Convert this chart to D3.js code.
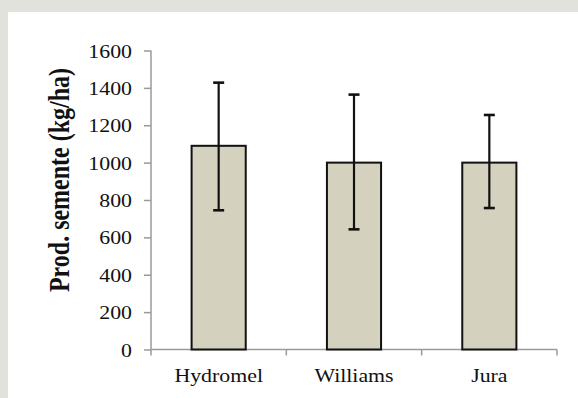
<!DOCTYPE html>
<html>
<head>
<meta charset="utf-8">
<title>Prod. semente</title>
<script src="https://d3js.org/d3.v7.min.js"></script>
<style>
  body { margin: 0; background: #e2e2dc; }
  svg { display: block; }
  text { font-family: "Liberation Serif", "Times New Roman", serif; fill: #111; }
  .axis path, .axis line { stroke: #9a9a9a; stroke-width: 1.5px; }
</style>
</head>
<body>
<script>
// data
var cultivars = ["Hydromel", "Williams", "Jura"];
var yieldMean = [1090, 1000, 1000];
var errLow    = [745, 643, 757];
var errHigh   = [1428, 1364, 1255];
var yTicks    = [0, 200, 400, 600, 800, 1000, 1200, 1400, 1600];

var W = 578, H = 398;
var mLeft = 151, mRight = 557, mTop = 50.5, mBottom = 349.5;

var svg = d3.select("body").append("svg")
  .attr("width", W).attr("height", H);

// white panel on grey page
svg.append("rect")
  .attr("x", 8).attr("y", 12)
  .attr("width", W - 8).attr("height", H - 12)
  .attr("fill", "#fff");

var x = d3.scaleBand().domain(cultivars).range([mLeft, mRight]).padding(0);
var y = d3.scaleLinear().domain([0, 1600]).range([mBottom, mTop]);

var rows = cultivars.map(function(c, i) {
  return { name: c, v: yieldMean[i], lo: errLow[i], hi: errHigh[i] };
});

// y axis
var gy = svg.append("g").attr("class", "axis")
  .attr("transform", "translate(" + mLeft + ",0)")
  .call(d3.axisLeft(y).tickValues(yTicks).tickSize(7).tickPadding(7).tickFormat(d3.format("d")));
gy.select(".domain").attr("d", "M0," + y(0) + "V" + y(1600));
// labels drawn stretched horizontally like the original
gy.selectAll(".tick text")
  .style("font-size", "19px")
  .attr("x", null).attr("dy", null)
  .attr("transform", "translate(-19,6.5) scale(1.15,1)");

// x axis: line with ticks on category boundaries, labels under centres
var gx = svg.append("g").attr("class", "axis")
  .attr("transform", "translate(0," + mBottom + ")");
gx.append("path").attr("fill", "none")
  .attr("d", "M" + mLeft + ",0H" + mRight);
var bounds = cultivars.map(function(c) { return x(c); }).concat([x.range()[1]]);
gx.selectAll("line.b").data(bounds).enter().append("line")
  .attr("class", "b")
  .attr("x1", function(d) { return d; }).attr("x2", function(d) { return d; })
  .attr("y1", 0).attr("y2", 6);

var gxl = svg.append("g")
  .attr("transform", "translate(0," + mBottom + ")")
  .call(d3.axisBottom(x).tickSize(0));
gxl.select(".domain").remove();
gxl.selectAll(".tick text")
  .style("font-size", "19px")
  .attr("y", null).attr("dy", null)
  .attr("transform", "translate(0,32) scale(1.15,1)");

// bars
var bw = x.bandwidth() * 0.4;
svg.append("g").selectAll("rect").data(rows).enter().append("rect")
  .attr("x", function(d) { return x(d.name) + x.bandwidth() / 2 - bw / 2; })
  .attr("y", function(d) { return y(d.v); })
  .attr("width", bw)
  .attr("height", function(d) { return y(0) - y(d.v); })
  .attr("fill", "#d4d2be")
  .attr("stroke", "#111")
  .attr("stroke-width", 2);

// error bars
var eb = svg.append("g").attr("stroke", "#111").attr("stroke-width", 2.2)
  .selectAll("g").data(rows).enter().append("g");
eb.append("line")
  .attr("x1", function(d) { return x(d.name) + x.bandwidth() / 2; })
  .attr("x2", function(d) { return x(d.name) + x.bandwidth() / 2; })
  .attr("y1", function(d) { return y(d.lo); })
  .attr("y2", function(d) { return y(d.hi); });
["lo", "hi"].forEach(function(k) {
  eb.append("line")
    .attr("x1", function(d) { return x(d.name) + x.bandwidth() / 2 - 5.5; })
    .attr("x2", function(d) { return x(d.name) + x.bandwidth() / 2 + 5.5; })
    .attr("y1", function(d) { return y(d[k]); })
    .attr("y2", function(d) { return y(d[k]); })
    .attr("stroke-width", 2.6);
});

// y label
svg.append("text")
  .attr("transform", "translate(69,180) rotate(-90) scale(1,1.2)")
  .attr("text-anchor", "middle")
  .style("font-size", "24px")
  .style("font-weight", "bold")
  .text("Prod. semente (kg/ha)");
</script>
</body>
</html>
